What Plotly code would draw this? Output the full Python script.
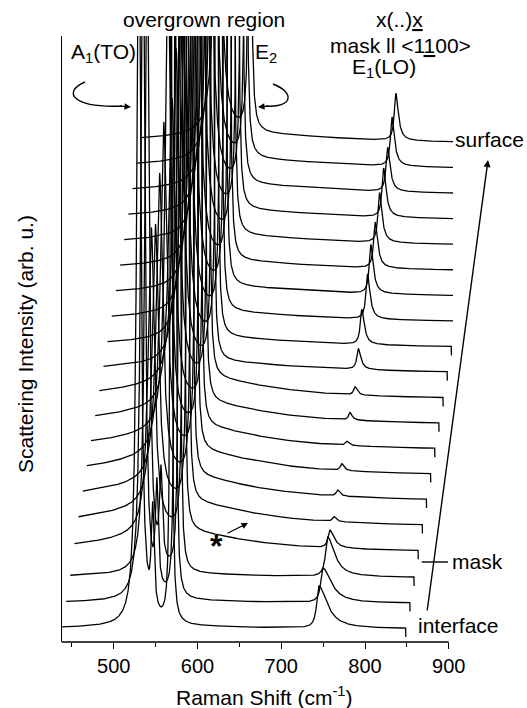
import numpy as np
import plotly.graph_objects as go

FONT = "Liberation Sans, Arial, sans-serif"

# ---------------- data ----------------
# 20 Raman spectra, index 0 = interface (bottom) ... 19 = surface (top)
x_first = 438.3        # first Raman shift of each spectrum (cm-1)
x_last = 848.7         # last Raman shift of each spectrum (cm-1)
shift_x = 4.95         # waterfall shift between consecutive spectra (cm-1)
shift_y = 1.0          # waterfall shift between consecutive spectra (arb. u.)
base_y = 0.5
end_drop = 0.35        # drop of the last recorded point

# A1(TO) phonon
a1_pos = [529.9, 529.9, 529.9, 530.0, 530.0, 530.0, 530.0, 530.0, 530.0, 530.0,
          530.0, 530.0, 530.0, 530.0, 530.0, 530.0, 530.0, 530.0, 530.0, 530.0]
a1_amp = [30.0, 28.0, 26.0, 12.0, 11.0, 12.0, 13.0, 19.0, 12.0, 13.0,
          14.0, 14.0, 14.0, 14.0, 14.0, 14.0, 14.0, 14.0, 14.0, 14.0]
a1_hw = [2.8, 2.8, 2.8, 4.5, 4.5, 4.5, 4.5, 3.5, 4.5, 4.5,
         4.5, 4.5, 4.5, 4.5, 4.5, 4.5, 4.5, 4.5, 4.5, 4.5]
# extra band between A1(TO) and E2 near the interface
mid_pos = [546.5] * 20
mid_amp = [4.0, 4.0, 3.5] + [0.0] * 17
# E2 phonon (very strong, clipped)
e2_pos = [568.5] * 20
e2_amp = [30.0] * 20
e2_hw = [1.2] * 20
# E1(LO) phonon
lo_pos = [744.8, 744.7, 745.4, 743.1, 743.0, 742.5, 742.4, 743.5, 742.4, 743.5,
          742.5, 741.7, 743.5, 742.5, 742.8, 743.0, 742.9, 742.8, 743.0, 742.7]
lo_amp = [1.65, 1.35, 1.55, 0.70, 0.20, 0.24, 0.27, 0.16, 0.30, 0.32,
          0.82, 1.37, 1.76, 1.92, 1.80, 1.96, 1.92, 1.73, 1.92, 1.85]
lo_hw_left = [3.0, 3.0, 3.0, 2.5, 2.0, 2.0, 2.0, 2.0, 2.0, 2.0,
              2.2, 2.2, 2.2, 2.2, 2.2, 2.2, 2.2, 2.2, 2.2, 2.2]
lo_hw_right = [12.0, 12.0, 10.0, 6.0, 3.0, 3.0, 3.0, 3.0, 3.0, 3.0,
               3.5, 3.5, 3.5, 3.5, 3.5, 3.5, 3.5, 3.5, 3.5, 3.5]
# broad background band (marked * in the mask region)
bg_pos = [560.0] * 20
bg_amp = [0.10, 0.10, 0.15, 0.80, 0.95, 0.95, 0.95, 0.90, 0.85, 0.80,
          0.45, 0.40, 0.40, 0.40, 0.40, 0.40, 0.40, 0.40, 0.40, 0.40]
bg_hw = [150.0, 150.0, 150.0, 100.0, 100.0, 100.0, 100.0, 100.0, 100.0, 100.0,
         150.0, 150.0, 150.0, 150.0, 150.0, 150.0, 150.0, 150.0, 150.0, 150.0]

x_ticks = [500, 600, 700, 800, 900]
x_minor_ticks = [450, 550, 650, 750, 850]

# ---------------- figure ----------------
W, H = 527, 708
ML, MR, MT, MB = 62, 74, 36, 66
PW, PH = W - ML - MR, H - MT - MB
X_RANGE = [438.3, 905.0]
Y_RANGE = [0, PH / 25.5]
TXT = 21


def px(xp, yp):
    return (xp - ML) / PW, (H - MB - yp) / PH


def lor(x, x0, a, g):
    return a * g * g / ((x - x0) ** 2 + g * g)


def alor(x, x0, a, gl, gr):
    g = np.where(x < x0, gl, gr)
    return a * g * g / ((x - x0) ** 2 + g * g)


grid = np.arange(x_first, x_last, 0.2)
fig = go.Figure()
for k in range(20):
    y = (lor(grid, bg_pos[k], bg_amp[k], bg_hw[k])
         + lor(grid, a1_pos[k], a1_amp[k], a1_hw[k])
         + lor(grid, mid_pos[k], mid_amp[k], 2.0)
         + lor(grid, e2_pos[k], e2_amp[k], e2_hw[k])
         + alor(grid, lo_pos[k], lo_amp[k], lo_hw_left[k], lo_hw_right[k]))
    xs = np.append(grid, x_last) + k * shift_x
    ys = np.append(y, y[-1] - end_drop) + base_y + k * shift_y
    fig.add_trace(go.Scatter(x=xs, y=ys, mode="lines",
                             line=dict(color="black", width=1.3),
                             showlegend=False, hoverinfo="skip"))

annotations = []
shapes = []


def text(s, x, y, size=TXT, xanchor="center", angle=0):
    xp, yp = px(x, y)
    annotations.append(dict(text=s, x=xp, y=yp, xref="paper", yref="paper",
                            xanchor=xanchor, yanchor="middle", showarrow=False,
                            textangle=angle,
                            font=dict(family=FONT, size=size, color="black")))


def arrow(tip, tail, width=1.4, size=1.0):
    xp, yp = px(*tip)
    annotations.append(dict(text="", x=xp, y=yp, xref="paper", yref="paper",
                            ax=tail[0] - tip[0], ay=tail[1] - tip[1],
                            showarrow=True, arrowhead=2, arrowsize=size,
                            arrowwidth=width, arrowcolor="black"))


def path(points):
    cmds = []
    for c, pts in points:
        cmds.append(c + " " + " ".join("%.4f,%.4f" % px(*p) for p in pts))
    shapes.append(dict(type="path", xref="paper", yref="paper",
                       path=" ".join(cmds), line=dict(color="black", width=1.4)))


text("overgrown region", 204, 19)
text("x(..)<u>x</u>", 399, 19)
text("mask ll &lt;1<u>1</u>00&gt;", 400, 46)
text("E<sub>1</sub>(LO)", 384, 68)
text("A<sub>1</sub>(TO)", 103, 53)
text("E<sub>2</sub>", 266, 53)
text("surface", 453, 139, xanchor="left")
text("mask", 450, 561, xanchor="left")
text("interface", 416, 625, xanchor="left")
text("<b>*</b>", 216, 546, size=32)
text("Scattering Intensity (arb. u.)", 26, 344, angle=-90)
text("Raman Shift (cm<sup>-1</sup>)", 264, 696)

arrow((488, 160), (427, 612))
arrow((248, 523), (226, 534), width=1.3)
arrow((131, 107), (119, 106), width=1.3)
arrow((258, 107), (270, 106), width=1.3)
path([("M", [(85, 82)]), ("C", [(62, 92), (72, 108), (122, 106)])])
path([("M", [(273, 84)]), ("C", [(296, 93), (292, 108), (266, 106)])])

# mask marker on the arrow
x0p, y0p = px(421.7, 562)
x1p, _ = px(448, 562)
shapes.append(dict(type="line", xref="paper", yref="paper", x0=x0p, x1=x1p,
                   y0=y0p, y1=y0p, line=dict(color="black", width=1.4)))
# x-axis line ending at 900
shapes.append(dict(type="line", xref="x", yref="paper", x0=X_RANGE[0], x1=900,
                   y0=0, y1=0, line=dict(color="black", width=1.4)))

fig.update_layout(
    width=W, height=H, margin=dict(l=ML, r=MR, t=MT, b=MB, pad=0),
    paper_bgcolor="white", plot_bgcolor="white",
    font=dict(family=FONT, size=20, color="black"),
    annotations=annotations, shapes=shapes,
    xaxis=dict(range=X_RANGE, showgrid=False, zeroline=False, showline=False,
               tickmode="array", tickvals=x_ticks, ticks="outside", ticklen=6,
               tickwidth=1.3, tickcolor="black",
               minor=dict(tickvals=x_minor_ticks, ticks="outside",
                          ticklen=4, tickwidth=1.3, tickcolor="black"),
               tickfont=dict(family=FONT, size=20, color="black")),
    yaxis=dict(range=Y_RANGE, showgrid=False, zeroline=False, showline=True,
               linecolor="black", linewidth=1.4, showticklabels=False,
               ticks=""),
)

fig.write_html("out.html")
